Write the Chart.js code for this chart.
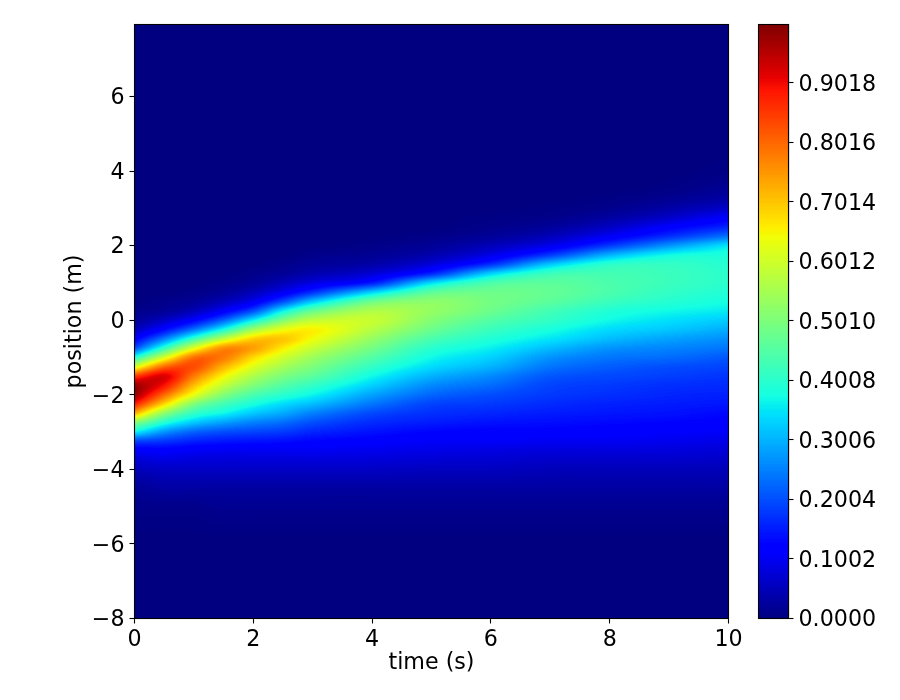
<!DOCTYPE html>
<html lang="en">
<head>
    <meta charset="UTF-8">
    <title>position over time</title>
    <script src="https://cdn.jsdelivr.net/npm/chart.js"></script>
    <style>
        html, body { margin: 0; padding: 0; background: #fff; }
        canvas { position: absolute; left: 0; top: 0; }
    </style>
</head>
<body>
    <canvas id="fieldChart" width="900" height="700"></canvas>
    <canvas id="barChart" width="900" height="700"></canvas>
    <script>
        const times = [0, 0.5, 1, 1.5, 2, 2.5, 3, 4, 5, 6, 7, 8, 9, 10];
        const positions = [-8, -6, -5, -4.5, -4, -3.5, -3.25, -3, -2.75, -2.5, -2.25, -2, -1.75, -1.5, -1.25, -1, -0.75, -0.5, -0.25, 0, 0.25, 0.5, 0.75, 1, 1.25, 1.5, 1.75, 2, 2.25, 2.5, 2.75, 3, 3.25, 3.5, 4, 5, 8];

        // values, one list per time, bottom to top
        const z00 = [0, 0, .01, .02, .05, .11, .19, .36, .51, .72, .88, .98, .98, .85, .61, .39, .2, .11, .05, .02, .01, 0, 0, 0, 0, 0, 0, 0, 0, 0, 0, 0, 0, 0, 0, 0, 0];
        const z05 = [0, 0, .01, .03, .06, .115, .175, .27, .39, .52, .68, .8, .89, .92, .8, .61, .41, .25, .13, .06, .02, .01, 0, 0, 0, 0, 0, 0, 0, 0, 0, 0, 0, 0, 0, 0, 0];
        const z10 = [0, 0, .01, .03, .06, .105, .155, .22, .32, .41, .505, .63, .71, .78, .83, .79, .62, .42, .24, .12, .05, .02, .007, 0, 0, 0, 0, 0, 0, 0, 0, 0, 0, 0, 0, 0, 0];
        const z15 = [0, 0, .015, .03, .06, .1, .145, .2, .28, .365, .43, .51, .585, .65, .72, .78, .76, .58, .38, .22, .11, .05, .02, .008, 0, 0, 0, 0, 0, 0, 0, 0, 0, 0, 0, 0, 0];
        const z20 = [0, 0, .015, .03, .06, .1, .14, .19, .25, .32, .38, .44, .505, .56, .62, .68, .74, .69, .54, .36, .2, .1, .05, .02, .01, 0, 0, 0, 0, 0, 0, 0, 0, 0, 0, 0, 0];
        const z25 = [0, 0, .015, .03, .06, .1, .135, .18, .23, .29, .34, .4, .45, .5, .55, .6, .66, .7, .63, .5, .36, .2, .1, .05, .02, .01, 0, 0, 0, 0, 0, 0, 0, 0, 0, 0, 0];
        const z30 = [0, 0, .015, .03, .06, .1, .125, .16, .2, .25, .31, .365, .41, .46, .5, .54, .59, .64, .655, .58, .47, .32, .17, .085, .04, .02, .01, 0, 0, 0, 0, 0, 0, 0, 0, 0, 0];
        const z40 = [0, 0, .015, .03, .06, .095, .115, .14, .165, .195, .24, .285, .33, .37, .41, .45, .49, .53, .57, .59, .56, .48, .33, .15, .075, .035, .017, .008, 0, 0, 0, 0, 0, 0, 0, 0, 0];
        const z50 = [0, 0, .015, .03, .055, .09, .105, .125, .15, .17, .19, .225, .26, .3, .34, .37, .4, .44, .48, .51, .53, .52, .46, .34, .16, .08, .04, .02, .008, 0, 0, 0, 0, 0, 0, 0, 0];
        const z60 = [0, 0, .015, .03, .055, .085, .105, .12, .14, .16, .18, .2, .23, .26, .3, .33, .36, .39, .42, .45, .48, .49, .48, .44, .33, .17, .09, .05, .022, .01, .004, 0, 0, 0, 0, 0, 0];
        const z70 = [0, 0, .015, .03, .05, .08, .1, .12, .135, .15, .165, .18, .19, .21, .24, .27, .31, .35, .38, .41, .43, .46, .47, .46, .42, .32, .18, .095, .05, .024, .01, .004, 0, 0, 0, 0, 0];
        const z80 = [0, 0, .015, .03, .05, .08, .1, .115, .13, .145, .155, .17, .18, .195, .215, .24, .27, .31, .34, .37, .39, .42, .44, .44, .43, .4, .3, .18, .105, .06, .03, .012, .005, 0, 0, 0, 0];
        const z90 = [0, 0, .015, .03, .05, .08, .095, .11, .125, .14, .15, .16, .17, .185, .2, .23, .255, .285, .32, .345, .37, .395, .41, .42, .42, .41, .37, .27, .17, .115, .065, .035, .016, .006, 0, 0, 0];
        const z100 = [0, 0, .015, .03, .05, .075, .09, .105, .12, .13, .145, .155, .165, .175, .19, .21, .24, .265, .295, .325, .355, .375, .39, .4, .4, .395, .385, .35, .24, .16, .115, .065, .035, .02, .005, 0, 0];
        const columns = [z00, z05, z10, z15, z20, z25, z30, z40, z50, z60, z70, z80, z90, z100];

        const xTicks = [0, 2, 4, 6, 8, 10];
        const yTicks = [-8, -6, -4, -2, 0, 2, 4, 6];
        const barTicks = [0, 0.1002, 0.2004, 0.3006, 0.4008, 0.501, 0.6012, 0.7014, 0.8016, 0.9018];

        const tickFont = { family: '"DejaVu Sans"', size: 22.2 };
        // the second, empty label line pushes side labels down 2px, where matplotlib has them
        const sideFont = { family: '"DejaVu Sans"', size: 22.2, lineHeight: '4px' };

        // same breakpoints as matplotlib jet
        const jetR = [[0, 0], [0.35, 0], [0.66, 1], [0.89, 1], [1, 0.5]];
        const jetG = [[0, 0], [0.125, 0], [0.375, 1], [0.64, 1], [0.91, 0], [1, 0]];
        const jetB = [[0, 0.5], [0.11, 1], [0.34, 1], [0.65, 0], [1, 0]];

        function lerpTable(table, v) {
            for (let i = 1; i < table.length; i++) {
                if (v <= table[i][0]) {
                    const a = table[i - 1], b = table[i];
                    return a[1] + (b[1] - a[1]) * (v - a[0]) / (b[0] - a[0]);
                }
            }
            return table[table.length - 1][1];
        }

        function jet(v) {
            v = Math.max(0, Math.min(1, Math.round(v * 255) / 255));
            return [lerpTable(jetR, v) * 255, lerpTable(jetG, v) * 255, lerpTable(jetB, v) * 255];
        }

        function findSlot(list, v) {
            let i = 0;
            while (i < list.length - 2 && v > list[i + 1]) i++;
            return i;
        }

        // smooth shading between two read values
        function shade(list, vals, v) {
            const i = findSlot(list, v);
            const h = list[i + 1] - list[i];
            const s = (v - list[i]) / h;
            const last = list.length - 1;
            const m0 = (vals[i + 1] - vals[Math.max(i - 1, 0)]) / (list[i + 1] - list[Math.max(i - 1, 0)]);
            const m1 = (vals[Math.min(i + 2, last)] - vals[i]) / (list[Math.min(i + 2, last)] - list[i]);
            const s2 = s * s, s3 = s2 * s;
            return (2 * s3 - 3 * s2 + 1) * vals[i] + (s3 - 2 * s2 + s) * h * m0 + (-2 * s3 + 3 * s2) * vals[i + 1] + (s3 - s2) * h * m1;
        }

        const fieldPlugin = {
            id: 'field',
            beforeDatasetsDraw(chart) {
                const area = chart.chartArea;
                const { x, y } = chart.scales;
                const cells = chart.data.datasets[0].data;
                const rows = positions.length;
                const left = Math.floor(area.left), top = Math.floor(area.top);
                const w = Math.ceil(area.right) - left;
                const h = Math.ceil(area.bottom) - top;
                const img = chart.ctx.createImageData(w, h);
                for (let py = 0; py < h; py++) {
                    const yv = y.getValueForPixel(top + py + 0.5);
                    const across = times.map((t, i) => shade(positions, positions.map((p, j) => cells[i * rows + j].v), yv));
                    for (let px = 0; px < w; px++) {
                        const c = jet(shade(times, across, x.getValueForPixel(left + px + 0.5)));
                        const k = (py * w + px) * 4;
                        img.data[k] = c[0];
                        img.data[k + 1] = c[1];
                        img.data[k + 2] = c[2];
                        img.data[k + 3] = 255;
                    }
                }
                chart.ctx.putImageData(img, left, top);
            }
        };

        const barPlugin = {
            id: 'colorbar',
            beforeDatasetsDraw(chart) {
                const area = chart.chartArea;
                const ctx = chart.ctx;
                for (let py = Math.floor(area.top); py < Math.ceil(area.bottom); py++) {
                    const c = jet(chart.scales.y.getValueForPixel(py + 0.5));
                    ctx.fillStyle = `rgb(${c[0]},${c[1]},${c[2]})`;
                    ctx.fillRect(area.left, py, area.right - area.left, 1);
                }
            }
        };

        const framePlugin = {
            id: 'frame',
            afterDatasetsDraw(chart) {
                const a = chart.chartArea;
                chart.ctx.save();
                chart.ctx.strokeStyle = '#000';
                chart.ctx.lineWidth = 1.1;
                chart.ctx.strokeRect(a.left, a.top, a.right - a.left, a.bottom - a.top);
                chart.ctx.restore();
            }
        };

        function minus(value) {
            return String(value).replace('-', '\u2212');
        }

        const cells = [];
        columns.forEach((col, i) => col.forEach((v, j) => cells.push({ x: times[i], y: positions[j], v: v })));

        new Chart(document.getElementById('fieldChart').getContext('2d'), {
            type: 'scatter',
            data: { datasets: [{ data: cells, pointRadius: 0, pointHoverRadius: 0 }] },
            plugins: [fieldPlugin, framePlugin],
            options: {
                responsive: false,
                animation: false,
                events: [],
                layout: { padding: { left: 0, top: 24.5, right: 171.5, bottom: 0 } },
                plugins: { legend: { display: false }, tooltip: { enabled: false } },
                scales: {
                    x: {
                        type: 'linear',
                        min: 0,
                        max: 10,
                        afterBuildTicks: (s) => { s.ticks = xTicks.map(v => ({ value: v })); },
                        afterFit: (s) => { s.height = 81.5; },
                        grid: { drawOnChartArea: false, tickLength: 5, tickColor: '#000', tickWidth: 1.1 },
                        border: { color: '#000', width: 1.1 },
                        ticks: { color: '#000', font: tickFont, padding: 3, maxRotation: 0, autoSkip: false, callback: minus },
                        title: { display: true, text: 'time (s)', color: '#000', font: tickFont, padding: { top: 4, bottom: 23 } }
                    },
                    y: {
                        type: 'linear',
                        min: -8,
                        max: 7.93,
                        afterBuildTicks: (s) => { s.ticks = yTicks.map(v => ({ value: v })); },
                        afterFit: (s) => { s.width = 134.5; },
                        grid: { drawOnChartArea: false, tickLength: 5, tickColor: '#000', tickWidth: 1.1 },
                        border: { color: '#000', width: 1.1 },
                        ticks: { color: '#000', font: sideFont, padding: 5, autoSkip: false, callback: v => ['', minus(v)] },
                        title: { display: true, text: 'position (m)', color: '#000', font: tickFont, padding: { top: 62, bottom: 6 } }
                    }
                }
            }
        });

        new Chart(document.getElementById('barChart').getContext('2d'), {
            type: 'scatter',
            data: { datasets: [{ data: barTicks.map(v => ({ x: 0, y: v })), pointRadius: 0, pointHoverRadius: 0 }] },
            plugins: [barPlugin, framePlugin],
            options: {
                responsive: false,
                animation: false,
                events: [],
                layout: { padding: { left: 758.5, top: 24.5, right: 0, bottom: 81.5 } },
                plugins: { legend: { display: false }, tooltip: { enabled: false } },
                scales: {
                    x: { type: 'linear', display: false, min: 0, max: 1 },
                    y: {
                        type: 'linear',
                        position: 'right',
                        min: 0,
                        max: 1,
                        afterBuildTicks: (s) => { s.ticks = barTicks.map(v => ({ value: v })); },
                        afterFit: (s) => { s.width = 111.5; },
                        grid: { drawOnChartArea: false, tickLength: 5, tickColor: '#000', tickWidth: 1.1 },
                        border: { color: '#000', width: 1.1 },
                        ticks: { color: '#000', font: sideFont, padding: 5, autoSkip: false, callback: v => ['', v.toFixed(4)] }
                    }
                }
            }
        });
    </script>
</body>
</html>
